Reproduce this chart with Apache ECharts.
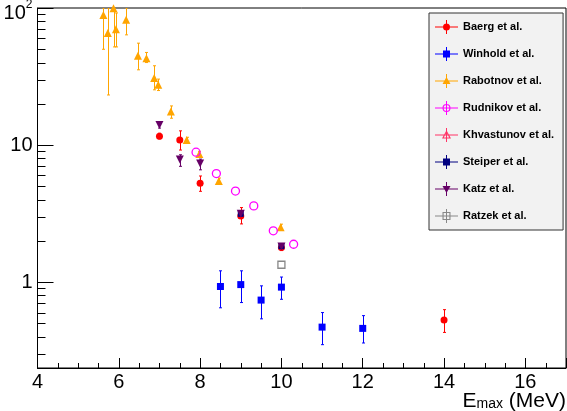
<!DOCTYPE html>
<html>
<head>
<meta charset="utf-8">
<script src="https://cdn.jsdelivr.net/npm/echarts@6/dist/echarts.min.js"></script>
<style>
html, body { margin: 0; padding: 0; background: #fff; }
#main { width: 567px; height: 411px; }
</style>
</head>
<body>
<div id="main"></div>
<script>
// axis ranges and tick values
var xMin = 4, xMax = 17;
var yMin = 0.2365, yMax = 100;
var xMinorTicks = [4.5, 5, 5.5, 6.5, 7, 7.5, 8.5, 9, 9.5, 10.5, 11, 11.5, 12.5, 13, 13.5, 14.5, 15, 15.5, 16.5];
var yMinorTicks = [0.3, 0.4, 0.5, 0.6, 0.7, 0.8, 0.9, 2, 3, 4, 5, 6, 7, 8, 9, 20, 30, 40, 50, 60, 70, 80, 90];

// Baerg et al.
var baergX  = [7.0, 7.5, 8.0, 9.0, 10.0, 14.0];
var baergY  = [11.6, 10.9, 5.27, 3.04, 1.79, 0.53];
var baergLo = [11.1, 9.2, 4.6, 2.66, 1.7, 0.43];
var baergHi = [12.2, 12.7, 5.95, 3.5, 1.9, 0.63];

// Winhold et al.
var winholdX  = [8.5, 9.0, 9.5, 10.0, 11.0, 12.0];
var winholdY  = [0.93, 0.96, 0.74, 0.92, 0.47, 0.46];
var winholdLo = [0.65, 0.71, 0.54, 0.75, 0.35, 0.36];
var winholdHi = [1.21, 1.21, 0.94, 1.09, 0.60, 0.57];

// Rabotnov et al.
var rabotnovX  = [5.62, 5.73, 5.87, 5.93, 6.18, 6.47, 6.68, 6.87, 6.97, 7.28, 7.67, 7.98, 8.46, 9.98];
var rabotnovY  = [89, 65.6, 99.6, 70, 82, 44.8, 43, 30.8, 27.5, 17.6, 10.9, 8.6, 5.48, 2.52];
var rabotnovLo = [50, 23.2, 52, 52, 63.7, 35.4, 40, 25.3, 25, 15.7, 10.4, 8.2, 5.2, 2.4];
var rabotnovHi = [100, 100, 100, 92, 100, 55.4, 47.4, 37.9, 30.3, 19.3, 11.4, 9.0, 5.75, 2.65];

// Rudnikov et al.
var rudnikovX = [7.9, 8.4, 8.87, 9.32, 9.8, 10.3];
var rudnikovY = [8.87, 6.2, 4.62, 3.6, 2.37, 1.89];

// Khvastunov et al.
var khvastunovX = [];
var khvastunovY = [];

// Steiper et al.
var steiperX = [9.0, 10.0];
var steiperY = [3.15, 1.83];

// Katz et al.
var katzX  = [7.0, 7.5, 8.0, 9.0, 10.0];
var katzY  = [14.0, 7.85, 7.35, 3.15, 1.82];
var katzLo = [13.3, 7.0, 6.6, 3.0, 1.75];
var katzHi = [14.7, 8.5, 7.9, 3.3, 1.9];

// Ratzek et al.
var ratzekX = [10.0];
var ratzekY = [1.34];

var FONT = 'Liberation Sans';

function pts(xs, ys) {
    return xs.map(function (x, i) { return [x, ys[i]]; });
}
function bars(xs, lo, hi) {
    return xs.map(function (x, i) { return [x, lo[i], hi[i]]; });
}

function renderErr(params, api) {
    var x = api.value(0);
    var top = api.coord([x, api.value(2)]);
    var bot = api.coord([x, api.value(1)]);
    var s = { stroke: api.visual('color'), lineWidth: 1 };
    var cx = Math.round(top[0]) + 0.5;
    return {
        type: 'group',
        children: [
            { type: 'line', shape: { x1: cx, y1: top[1], x2: cx, y2: bot[1] }, style: s },
            { type: 'line', shape: { x1: cx - 1.5, y1: top[1], x2: cx + 1.5, y2: top[1] }, style: s },
            { type: 'line', shape: { x1: cx - 1.5, y1: bot[1], x2: cx + 1.5, y2: bot[1] }, style: s }
        ]
    };
}

function errSeries(data, color) {
    return {
        type: 'custom', silent: true, z: 2, clip: true,
        itemStyle: { color: color },
        encode: { x: 0, y: [1, 2] },
        renderItem: renderErr,
        data: data
    };
}

function markSeries(name, data, symbol, size, color, open, rotate) {
    return {
        name: name, type: 'scatter', z: 3,
        symbol: symbol, symbolSize: size, symbolRotate: rotate || 0,
        itemStyle: open
            ? { color: 'rgba(0,0,0,0)', borderColor: color, borderWidth: 1.3, opacity: 1 }
            : { color: color, opacity: 1 },
        emphasis: { disabled: true },
        data: data
    };
}

// legend icons: cross of error bar lines plus the marker, in a 23x14 box
var cross = 'M0 6.5h23v1H0Z M11 0h1v14h-1Z ';
var icons = {
    circle: 'path://' + cross + 'M8 7A3.5 3.5 0 1 1 15 7A3.5 3.5 0 1 1 8 7Z',
    ring: 'path://' + cross + 'M7.5 7A4 4 0 1 1 15.5 7A4 4 0 1 1 7.5 7Z M8.6 7A2.9 2.9 0 1 0 14.4 7A2.9 2.9 0 1 0 8.6 7Z',
    square: 'path://' + cross + 'M8 3.5h7v7h-7Z',
    openSquare: 'path://' + cross + 'M7.5 3h8v8h-8Z M8.6 4.1v5.8h5.8v-5.8Z',
    triangle: 'path://' + cross + 'M11.5 3L15.5 10H7.5Z',
    openTriangle: 'path://' + cross + 'M11.5 2.3L16 10.5H7Z M11.5 4.6L8.8 9.5H14.2Z',
    down: 'path://' + cross + 'M7.5 4H15.5L11.5 11Z'
};

var names = ['Baerg et al.', 'Winhold et al.', 'Rabotnov et al.', 'Rudnikov et al.',
    'Khvastunov et al.', 'Steiper et al.', 'Katz et al.', 'Ratzek et al.'];
var colors = ['#ff0000', '#0000ff', '#ffa500', '#ff00ff', '#ff3366', '#000080', '#660066', '#888888'];
var legendIcons = [icons.circle, icons.square, icons.triangle, icons.ring,
    icons.openTriangle, icons.square, icons.down, icons.openSquare];

var myChart = echarts.init(document.getElementById('main'));

var option = {
    backgroundColor: '#fff',
    animation: false,
    grid: {
        left: 37.5, right: 1, top: 8, bottom: 43,
        show: true, borderColor: '#000', borderWidth: 1,
        containLabel: false, outerBoundsMode: 'none'
    },
    legend: {
        orient: 'vertical', left: 429, top: 13,
        itemWidth: 23, itemHeight: 14, itemGap: 13,
        padding: [7, 9, 7, 6],
        backgroundColor: '#f2f2f2', borderColor: '#333', borderWidth: 1,
        selectedMode: false,
        textStyle: { fontFamily: FONT, fontWeight: 'bold', fontSize: 11, color: '#000' },
        data: names.map(function (n, i) {
            return { name: n, icon: legendIcons[i], itemStyle: { color: colors[i], borderWidth: 0, opacity: 1 } };
        })
    },
    xAxis: {
        type: 'value', min: xMin, max: xMax, interval: 2,
        axisLine: { show: true, lineStyle: { color: '#000', width: 1 } },
        axisTick: { show: true, inside: true, length: 10, lineStyle: { color: '#000' } },
        splitLine: { show: false },
        axisLabel: {
            margin: 4, color: '#000', fontFamily: FONT, fontSize: 20,
            formatter: function (v) { return v === 17 ? '' : String(v); }
        },
        name: '{e|E}{s|max}{u| (MeV)}',
        nameLocation: 'end', nameGap: 0, nameMoveOverlap: false,
        nameTextStyle: {
            align: 'right', verticalAlign: 'top', padding: [23, 0, 0, 0],
            rich: {
                e: { fontFamily: FONT, fontSize: 21, color: '#000' },
                s: { fontFamily: FONT, fontSize: 14, color: '#000', padding: [6, 0, 0, 0] },
                u: { fontFamily: FONT, fontSize: 21, color: '#000' }
            }
        }
    },
    yAxis: {
        type: 'log', logBase: 10, min: yMin, max: yMax,
        axisLine: { show: true, lineStyle: { color: '#000', width: 1 } },
        axisTick: { show: true, inside: true, length: 16, lineStyle: { color: '#000' } },
        minorTick: { show: false },
        splitLine: { show: false },
        axisLabel: {
            margin: 5, color: '#000', fontFamily: FONT, fontSize: 20,
            formatter: function (v) {
                var e = Math.round(Math.log10(v) * 1000) / 1000;
                if (e === 0) return '1';
                if (e === 1) return '10';
                if (e === 2) return '{a|10}{b|2}';
                return '';
            },
            rich: {
                a: { fontFamily: FONT, fontSize: 20, color: '#000', padding: [11, 0, 0, 0] },
                b: { fontFamily: FONT, fontSize: 12, color: '#000', padding: [0, 0, 7, 0] }
            }
        }
    },
    series: [
        // minor ticks
        {
            type: 'custom', silent: true, z: 4,
            encode: { x: 0, y: 1 },
            data: yMinorTicks.map(function (v) { return [xMin, v]; }),
            renderItem: function (params, api) {
                var p = api.coord([api.value(0), api.value(1)]);
                var y = Math.round(p[1]) + 0.5;
                return { type: 'line', shape: { x1: p[0], y1: y, x2: p[0] + 8, y2: y }, style: { stroke: '#000', lineWidth: 1 } };
            }
        },
        {
            type: 'custom', silent: true, z: 4,
            encode: { x: 0, y: 1 },
            data: xMinorTicks.map(function (v) { return [v, yMin]; }),
            renderItem: function (params, api) {
                var p = api.coord([api.value(0), api.value(1)]);
                var x = Math.round(p[0]) + 0.5;
                return { type: 'line', shape: { x1: x, y1: p[1], x2: x, y2: p[1] - 5 }, style: { stroke: '#000', lineWidth: 1 } };
            }
        },
        errSeries(bars(baergX, baergLo, baergHi), colors[0]),
        errSeries(bars(winholdX, winholdLo, winholdHi), colors[1]),
        errSeries(bars(rabotnovX, rabotnovLo, rabotnovHi), colors[2]),
        errSeries(bars(katzX, katzLo, katzHi), colors[6]),
        markSeries(names[0], pts(baergX, baergY), 'circle', 7, colors[0]),
        markSeries(names[1], pts(winholdX, winholdY), 'rect', 7, colors[1]),
        markSeries(names[2], pts(rabotnovX, rabotnovY), 'triangle', 8, colors[2]),
        markSeries(names[3], pts(rudnikovX, rudnikovY), 'circle', 8, colors[3], true),
        markSeries(names[4], pts(khvastunovX, khvastunovY), 'triangle', 8, colors[4], true),
        markSeries(names[5], pts(steiperX, steiperY), 'rect', 6, colors[5]),
        markSeries(names[6], pts(katzX, katzY), 'triangle', 8, colors[6], false, 180),
        markSeries(names[7], pts(ratzekX, ratzekY), 'rect', 7, colors[7], true)
    ]
};

myChart.setOption(option);
</script>
</body>
</html>
